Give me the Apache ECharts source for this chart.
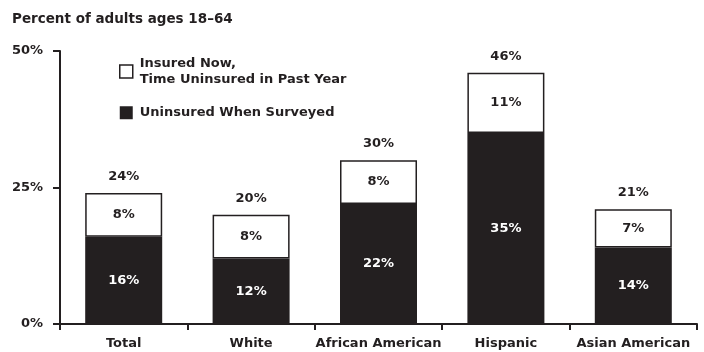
<!DOCTYPE html>
<html><head><meta charset="utf-8">
<script src="https://cdn.jsdelivr.net/npm/echarts@6/dist/echarts.min.js"></script>
<style>html,body{margin:0;padding:0;background:#fff}#c{width:704px;height:352px}</style>
</head><body><div id="c"></div>
<script>
const categories = ['Total', 'White', 'African American', 'Hispanic', 'Asian American'];
const uninsuredWhenSurveyed = [16, 12, 22, 35, 14];
const insuredNowUninsuredPastYear = [8, 8, 8, 11, 7];
const totals = [24, 20, 30, 46, 21];
const yTicks = [0, 25, 50];

const FONT = 'DejaVu Sans';
const INK = '#231f20';
const FS = 13;
const chart = echarts.init(document.getElementById('c'));
chart.setOption({
  animation: false,
  textStyle: { fontFamily: FONT },
  title: {
    text: 'Percent of adults ages 18–64',
    left: 7, top: 7,
    textStyle: { fontFamily: FONT, fontWeight: 'bold', fontSize: 13.5, color: INK }
  },
  legend: {
    orient: 'vertical', left: 114, top: 51,
    itemWidth: 13, itemHeight: 13, itemGap: 18, icon: 'rect',
    data: [
      { name: 'Insured Now,\nTime Uninsured in Past Year', itemStyle: { color: '#fff', borderColor: INK, borderWidth: 1.5 } },
      { name: 'Uninsured When Surveyed', itemStyle: { color: INK } }
    ],
    textStyle: { fontFamily: FONT, fontWeight: 'bold', fontSize: FS, color: INK, lineHeight: 15.5, padding: [0,0,0,2] },
    selectedMode: false
  },
  grid: { left: 60, right: 7, top: 51, bottom: 28, containLabel: false },
  xAxis: {
    type: 'category', data: categories,
    axisLine: { lineStyle: { color: INK, width: 2 } },
    axisTick: { show: true, length: 6, lineStyle: { color: INK, width: 2 } },
    axisLabel: { interval: 0, fontFamily: FONT, fontWeight: 'bold', fontSize: FS, color: INK, margin: 13 }
  },
  yAxis: {
    type: 'value', min: 0, max: 50, interval: 25,
    axisLine: { show: true, lineStyle: { color: INK, width: 2 } },
    axisTick: { show: true, length: 7, lineStyle: { color: INK, width: 2 } },
    splitLine: { show: false },
    axisLabel: { fontFamily: FONT, fontWeight: 'bold', fontSize: FS, color: INK, margin: 17,
      formatter: v => yTicks.includes(v) ? v + '%' : '' }
  },
  series: [
    {
      name: 'Uninsured When Surveyed', type: 'bar', stack: 's', barWidth: 77,
      data: uninsuredWhenSurveyed,
      itemStyle: { color: INK },
      label: { show: true, position: 'inside', formatter: '{c}%', color: '#fff', fontFamily: FONT, fontWeight: 'bold', fontSize: FS }
    },
    {
      name: 'Insured Now,\nTime Uninsured in Past Year', type: 'bar', stack: 's', barWidth: 77,
      data: insuredNowUninsuredPastYear,
      itemStyle: { color: '#fff', borderColor: INK, borderWidth: 1.5 },
      label: { show: true, position: 'inside', formatter: '{c}%', color: INK, fontFamily: FONT, fontWeight: 'bold', fontSize: FS }
    },
    {
      name: 'total', type: 'bar', stack: 's', barWidth: 77,
      data: totals.map(t => ({ value: 0 })),
      itemStyle: { color: 'transparent' },
      label: { show: true, position: 'top', distance: 10, color: INK, fontFamily: FONT, fontWeight: 'bold', fontSize: FS,
        formatter: p => totals[p.dataIndex] + '%' }
    }
  ]
});
</script></body></html>
